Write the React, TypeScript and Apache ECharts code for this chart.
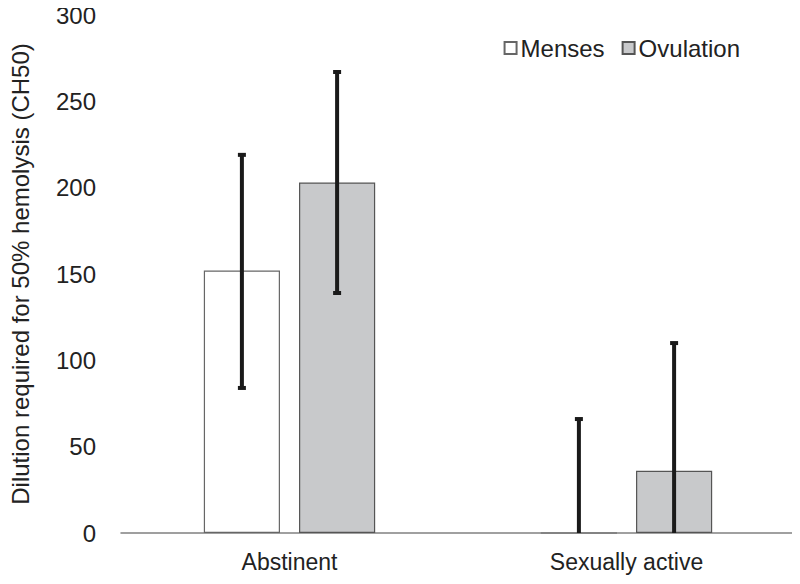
import React, { useEffect, useRef } from "react";
import * as echarts from "echarts";

const categories = ["Abstinent", "Sexually active"];
const seriesNames = ["Menses", "Ovulation"];
const mensesValues = [152, 0];
const ovulationValues = [203, 36];
const mensesErrLow = [84, 0];
const mensesErrHigh = [219, 66];
const ovulationErrLow = [139, 0];
const ovulationErrHigh = [267, 110];
const yTicks = [0, 50, 100, 150, 200, 250, 300];

const BAR_FRAC = 0.226;
const GAP_FRAC = 0.25;

export default function App() {
  const ref = useRef<HTMLDivElement>(null);
  useEffect(() => {
    if (!ref.current) return;
    const chart = echarts.init(ref.current, null, { renderer: "svg" });
    const font = "'Liberation Sans', Arial, sans-serif";
    const errData: any[] = [];
    categories.forEach((_, i) => {
      errData.push([i, mensesErrLow[i], mensesErrHigh[i], 0]);
      errData.push([i, ovulationErrLow[i], ovulationErrHigh[i], 1]);
    });
    const renderItem = (params: any, api: any) => {
      const ci = api.value(0);
      const lo = api.value(1);
      const hi = api.value(2);
      const s = api.value(3);
      const band = api.size([1, 0])[0];
      const bw = band * BAR_FRAC;
      const off = (bw + bw * GAP_FRAC) / 2;
      const pHi = api.coord([ci, hi]);
      const pLo = api.coord([ci, lo]);
      const x = pHi[0] + (s === 0 ? -off : off);
      const capW = 8;
      const children: any[] = [
        { type: "line", shape: { x1: x, y1: pHi[1], x2: x, y2: pLo[1] }, style: { stroke: "#1a1a1a", lineWidth: 4 } },
        { type: "line", shape: { x1: x - capW / 2, y1: pHi[1], x2: x + capW / 2, y2: pHi[1] }, style: { stroke: "#1a1a1a", lineWidth: 4 } },
      ];
      if (lo > 0) {
        children.push({ type: "line", shape: { x1: x - capW / 2, y1: pLo[1], x2: x + capW / 2, y2: pLo[1] }, style: { stroke: "#1a1a1a", lineWidth: 4 } });
      }
      return { type: "group", children };
    };
    chart.setOption({
      animation: false,
      backgroundColor: "#ffffff",
      textStyle: { fontFamily: font },
      grid: { left: 118, right: 5, top: 15, bottom: 51, containLabel: false },
      legend: {
        data: seriesNames,
        right: 55,
        top: 31,
        icon: "rect",
        itemWidth: 12,
        itemHeight: 12,
        itemGap: 17,
        textStyle: { fontSize: 24, color: "#222", fontFamily: font, padding: [0, 0, 0, -1] },
      },
      xAxis: {
        type: "category",
        data: categories,
        axisLine: { lineStyle: { color: "#808080", width: 1.5 } },
        axisTick: { show: false },
        axisLabel: { fontSize: 23, color: "#222", margin: 17, fontFamily: font },
      },
      yAxis: {
        type: "value",
        min: 0,
        max: 300,
        interval: 50,
        name: "Dilution required for 50% hemolysis (CH50)",
        nameLocation: "middle",
        nameGap: 89,
        nameRotate: 90,
        nameTextStyle: { fontSize: 24, color: "#222", fontFamily: font },
        axisLine: { show: false },
        axisTick: { show: false },
        splitLine: { show: false },
        axisLabel: {
          fontSize: 24,
          color: "#222",
          margin: 25,
          fontFamily: font,
          formatter: (v: number) => (yTicks.includes(v) ? String(v) : ""),
        },
      },
      series: [
        {
          name: seriesNames[0],
          type: "bar",
          data: mensesValues,
          barWidth: BAR_FRAC * 100 + "%",
          barGap: GAP_FRAC * 100 + "%",
          itemStyle: { color: "#ffffff", borderColor: "#666", borderWidth: 1.2 },
        },
        {
          name: seriesNames[1],
          type: "bar",
          data: ovulationValues,
          barWidth: BAR_FRAC * 100 + "%",
          barGap: GAP_FRAC * 100 + "%",
          itemStyle: { color: "#c8c9cb", borderColor: "#555", borderWidth: 1.2 },
        },
        {
          type: "custom",
          renderItem,
          data: errData,
          encode: { x: 0, y: [1, 2] },
          z: 10,
          silent: true,
        },
      ],
    });
    return () => chart.dispose();
  }, []);
  return <div ref={ref} style={{ width: 800, height: 584, margin: -8 }} />;
}
